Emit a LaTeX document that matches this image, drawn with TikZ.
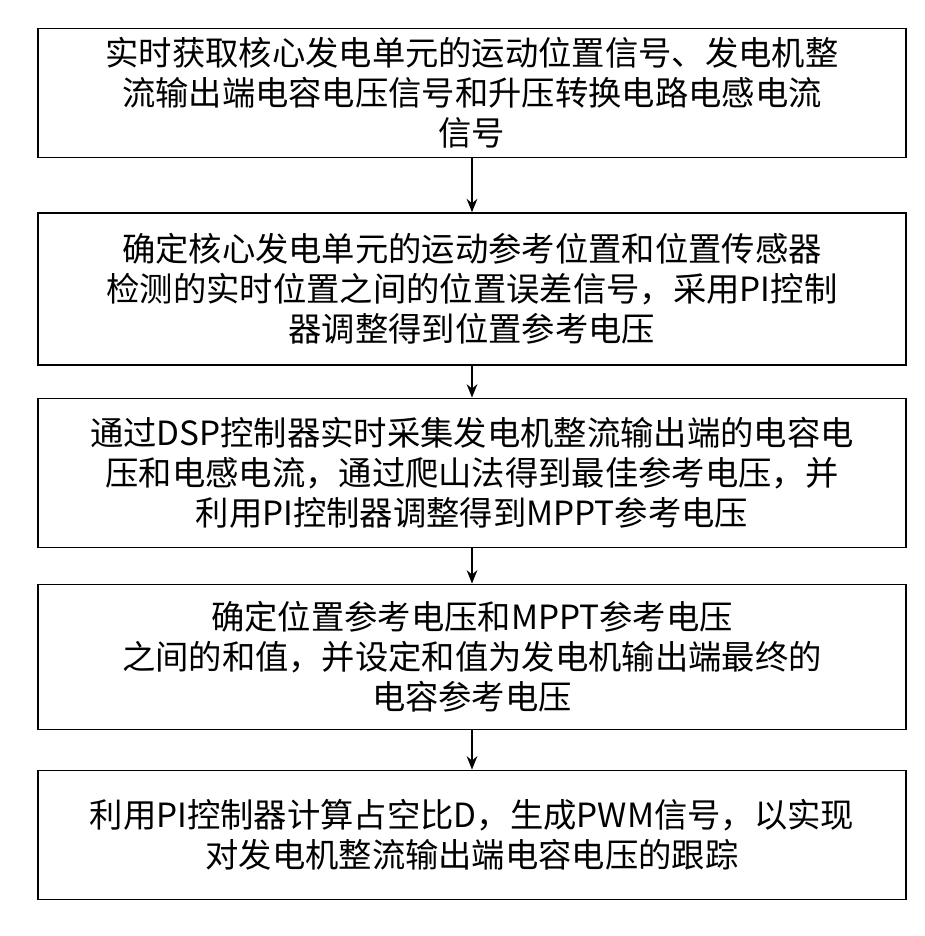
\documentclass[tikz,border=0pt]{standalone}
\usepackage{fontspec}
\newfontfamily\cjk{Noto Sans CJK SC}
\usetikzlibrary{arrows.meta}

\begin{document}
\begin{tikzpicture}[x=0.75pt,y=-0.75pt,
    stepbox/.style={draw, line width=1.2pt, minimum width=651pt, align=center,
                    font=\cjk\fontsize{25}{30}\selectfont},
    flow/.style={-{Stealth[length=10pt,width=8pt]}, line width=1.2pt}]
    \useasboundingbox (0,0) rectangle (925,936);
    \node [stepbox] [minimum height=97pt]  (s1) at (472,93)  {实时获取核心发电单元的运动位置信号、发电机整\\流输出端电容电压信号和升压转换电路电感电流\\信号};
    \node [stepbox] [minimum height=114pt] (s2) at (472,289) {确定核心发电单元的运动参考位置和位置传感器\\检测的实时位置之间的位置误差信号，采用PI控制\\器调整得到位置参考电压};
    \node [stepbox] [minimum height=112pt] (s3) at (472,473) {通过DSP控制器实时采集发电机整流输出端的电容电\\压和电感电流，通过爬山法得到最佳参考电压，并\\利用PI控制器调整得到MPPT参考电压};
    \node [stepbox] [minimum height=109pt] (s4) at (472,657) {确定位置参考电压和MPPT参考电压\\之间的和值，并设定和值为发电机输出端最终的\\电容参考电压};
    \node [stepbox] [minimum height=97pt]  (s5) at (472,835) {利用PI控制器计算占空比D，生成PWM信号，以实现\\对发电机整流输出端电容电压的跟踪};

    \draw [flow] (s1) -- (s2);
    \draw [flow] (s2) -- (s3);
    \draw [flow] (s3) -- (s4);
    \draw [flow] (s4) -- (s5);
\end{tikzpicture}
\end{document}
